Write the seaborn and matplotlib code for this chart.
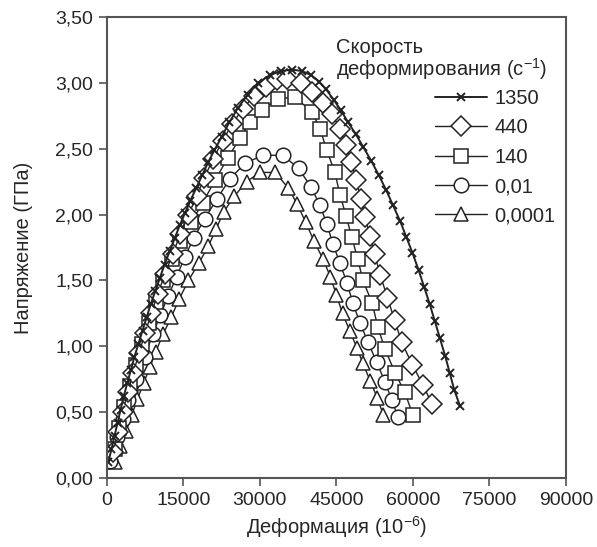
import numpy as np
import pandas as pd
import matplotlib
matplotlib.use("Agg")
import matplotlib.pyplot as plt
import seaborn as sns

# strain values are in units of 10^-6 (thousands listed, scaled below)
rate_labels = ["1350", "440", "140", "0,01", "0,0001"]

x_1350 = [0.3, 0.9, 1.5, 2.1, 2.7, 3.3, 4.0, 4.7, 5.4, 6.2, 7.0, 7.8, 8.6, 9.5, 10.4,
          11.3, 12.3, 13.3, 14.3, 15.3, 16.3, 17.5, 18.7, 19.9, 21.1, 22.5, 24.0, 25.7,
          27.6, 29.7, 32.0, 34.2, 36.3, 38.2, 40.0, 41.6, 43.0, 44.5, 45.9, 47.3, 48.8,
          50.3, 51.8, 53.3, 54.7, 56.1, 57.5, 58.7, 59.9, 61.1, 62.2, 63.3, 64.3, 65.3,
          66.3, 67.2, 68.1, 69.2]
y_1350 = [0.12, 0.22, 0.32, 0.42, 0.52, 0.62, 0.72, 0.82, 0.92, 1.02, 1.12, 1.22, 1.32,
          1.42, 1.52, 1.62, 1.72, 1.82, 1.92, 2.01, 2.10, 2.20, 2.30, 2.40, 2.49, 2.59,
          2.70, 2.81, 2.91, 3.00, 3.06, 3.09, 3.10, 3.09, 3.06, 3.01, 2.95, 2.87, 2.79,
          2.70, 2.61, 2.51, 2.41, 2.30, 2.19, 2.07, 1.95, 1.83, 1.71, 1.58, 1.45, 1.32,
          1.19, 1.06, 0.93, 0.80, 0.67, 0.55]

x_440 = [1.3, 2.2, 3.1, 4.1, 5.2, 6.3, 7.5, 8.7, 10.0, 11.4, 12.9, 14.4, 16.0, 17.6,
         19.1, 20.8, 22.7, 24.6, 26.6, 28.8, 31.2, 33.3, 35.4, 38.0, 40.3, 42.3, 44.2,
         45.7, 46.9, 47.9, 48.9, 49.8, 50.7, 51.5, 52.5, 53.6, 55.0, 56.4, 57.8, 59.9,
         61.9, 63.8]
y_440 = [0.20, 0.35, 0.50, 0.65, 0.80, 0.95, 1.10, 1.25, 1.40, 1.55, 1.70, 1.85, 2.00,
         2.14, 2.28, 2.42, 2.56, 2.69, 2.80, 2.90, 2.97, 3.02, 3.03, 3.00, 2.93, 2.85,
         2.76, 2.65, 2.53, 2.40, 2.26, 2.12, 1.98, 1.84, 1.70, 1.54, 1.37, 1.20, 1.03,
         0.86, 0.71, 0.56]

x_140 = [1.5, 2.4, 3.4, 4.5, 5.7, 6.9, 8.2, 9.6, 11.1, 12.7, 14.3, 16.5, 18.8, 21.2,
         23.7, 26.1, 28.0, 30.4, 33.5, 36.9, 40.2, 41.8, 43.1, 44.7, 45.7, 46.9, 48.0,
         49.2, 50.2, 52.0, 53.1, 54.5, 56.5, 58.4, 60.0]
y_140 = [0.22, 0.38, 0.54, 0.70, 0.86, 1.02, 1.18, 1.34, 1.50, 1.66, 1.80, 1.94, 2.09,
         2.26, 2.43, 2.58, 2.70, 2.79, 2.88, 2.89, 2.78, 2.65, 2.49, 2.32, 2.15, 1.99,
         1.83, 1.66, 1.50, 1.33, 1.15, 0.98, 0.80, 0.65, 0.48]

x_001 = [0.6, 2.0, 3.1, 4.2, 5.8, 7.4, 9.0, 10.5, 12.0, 13.7, 15.3, 17.0, 19.2, 21.6,
         24.1, 27.1, 30.6, 34.5, 37.6, 40.0, 41.8, 43.1, 44.3, 45.7, 47.1, 48.2, 49.6,
         51.2, 52.9, 54.5, 55.9, 57.1]
y_001 = [0.13, 0.31, 0.45, 0.59, 0.75, 0.92, 1.09, 1.24, 1.38, 1.53, 1.68, 1.82, 1.97,
         2.12, 2.27, 2.39, 2.45, 2.45, 2.35, 2.21, 2.07, 1.93, 1.78, 1.63, 1.48, 1.33,
         1.18, 1.03, 0.88, 0.73, 0.59, 0.46]

x_00001 = [1.6, 2.6, 3.8, 4.9, 6.0, 7.2, 8.4, 9.6, 11.0, 12.6, 14.2, 16.0, 18.0, 19.9,
           21.4, 22.9, 25.0, 27.4, 30.0, 33.0, 35.6, 37.3, 39.0, 40.6, 42.4, 43.8, 45.0,
           46.2, 47.6, 49.0, 50.2, 51.6, 53.0, 54.2]
y_00001 = [0.12, 0.24, 0.36, 0.48, 0.60, 0.72, 0.84, 0.96, 1.09, 1.22, 1.36, 1.50, 1.63,
           1.76, 1.89, 2.02, 2.14, 2.25, 2.32, 2.32, 2.20, 2.08, 1.94, 1.80, 1.66, 1.53,
           1.39, 1.25, 1.12, 0.99, 0.87, 0.74, 0.61, 0.48]

x_ticks = [0, 15000, 30000, 45000, 60000, 75000, 90000]
y_ticks = [0.0, 0.5, 1.0, 1.5, 2.0, 2.5, 3.0, 3.5]
y_tick_labels = ["0,00", "0,50", "1,00", "1,50", "2,00", "2,50", "3,00", "3,50"]

series = [
    (rate_labels[0], x_1350, y_1350, "x", 6, 1.4),
    (rate_labels[1], x_440, y_440, "D", 10, 1.0),
    (rate_labels[2], x_140, y_140, "s", 10, 1.0),
    (rate_labels[3], x_001, y_001, "o", 10.5, 1.0),
    (rate_labels[4], x_00001, y_00001, "^", 10, 1.0),
]

sns.set_style("white")
plt.rcParams["font.family"] = ["Liberation Sans", "DejaVu Sans"]
plt.rcParams["mathtext.fontset"] = "custom"
plt.rcParams["mathtext.rm"] = "Liberation Sans"
plt.rcParams["mathtext.it"] = "Liberation Sans"

fig = plt.figure(figsize=(5.97, 5.47), dpi=100)
ax = fig.add_axes([0.179, 0.126, 0.769, 0.843])

for label, xs, ys, mk, ms, lw in series[::-1]:
    df = pd.DataFrame({"x": np.array(xs) * 1000, "y": ys})
    sns.lineplot(data=df, x="x", y="y", ax=ax, sort=False, estimator=None,
                 color="#222222", lw=lw, marker=mk, ms=ms, mfc="white",
                 mec="#222222", mew=1.1 if mk != "x" else 1.4)

lines = ax.get_lines()[::-1]
leg = ax.legend(lines, rate_labels, loc="upper right", bbox_to_anchor=(0.995, 0.862),
                frameon=False, fontsize=14.5, handlelength=2.6, handletextpad=0.35,
                labelspacing=0.52, borderaxespad=0)
ax.text(0.5, 0.955, "Скорость\nдеформирования (с$^{-1}$)", transform=ax.transAxes,
        fontsize=14.5, ha="left", va="top", linespacing=0.98)

ax.set_xlim(0, 90000)
ax.set_ylim(0, 3.5)
ax.set_xticks(x_ticks)
ax.set_xticklabels([str(t) for t in x_ticks])
ax.set_yticks(y_ticks)
ax.set_yticklabels(y_tick_labels)
ax.tick_params(axis="both", direction="out", length=6, width=1.2, color="#555555",
               labelsize=14, pad=4, bottom=True, left=True, top=False, right=False)
for sp in ax.spines.values():
    sp.set_color("#555555")
    sp.set_linewidth(1.5)

ax.set_xlabel("Деформация (10$^{-6}$)", fontsize=14.5, labelpad=4)
ax.set_ylabel("Напряжение (ГПа)", fontsize=14.5, labelpad=16)

fig.savefig("out.png", dpi=100)
